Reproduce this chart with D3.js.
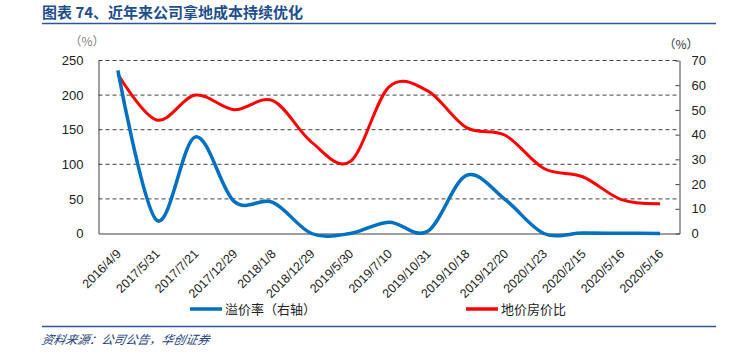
<!DOCTYPE html>
<html><head><meta charset="utf-8">
<script src="https://cdn.jsdelivr.net/npm/d3@7"></script>
<style>
body{margin:0;background:#fff;}
svg{display:block;}
</style></head>
<body>
<svg id="c" width="730" height="361"></svg>
<script>
const categories = ["2016/4/9","2017/5/31","2017/7/21","2017/12/29","2018/1/8","2018/12/29","2019/5/30","2019/7/10","2019/10/31","2019/10/18","2019/12/20","2020/1/23","2020/2/15","2020/5/16","2020/5/16"];
// 溢价率（右轴）, right axis units (%)
const premiumRate = [66, 5.4, 39.1, 13, 12.6, 0, 0, 4.6, 0.9, 23.5, 13.7, 0, 0.2, 0.1, 0];
// 地价房价比, left axis units (%)
const landHouseRatio = [230, 164, 200, 179, 192, 132, 104, 212, 206, 153, 142, 94, 82, 49, 43];
const leftTicks = [0, 50, 100, 150, 200, 250];
const rightTicks = [0, 10, 20, 30, 40, 50, 60, 70];
const seriesNames = ["溢价率（右轴）", "地价房价比"];
const title = "图表 74、近年来公司拿地成本持续优化";
const source = "资料来源：公司公告，华创证券";

const svg = d3.select("#c");
const L = 98.5, R = 679.5, T = 60.5, B = 233.5;
const x = d3.scaleBand().domain(d3.range(categories.length)).range([L, R]);
const yL = d3.scaleLinear().domain([0, 250]).range([B, T]);
const yR = d3.scaleLinear().domain([0, 70]).range([B, T]);
const cx = i => x(i) + x.bandwidth() / 2;

// title
svg.append("text").attr("x", 42).attr("y", 18).text(title)
  .attr("font-family", "Noto Sans CJK SC").attr("font-weight", "bold")
  .attr("font-size", 15).attr("fill", "#1F4E8C");
svg.append("line").attr("x1", 42).attr("x2", 716).attr("y1", 23.5).attr("y2", 23.5)
  .attr("stroke", "#2F5597").attr("stroke-width", 1.5);
svg.append("line").attr("x1", 42).attr("x2", 716).attr("y1", 326.5).attr("y2", 326.5)
  .attr("stroke", "#2F5597").attr("stroke-width", 1.5);
svg.append("text").attr("x", 42).attr("y", 344).text(source)
  .attr("font-family", "Noto Sans CJK SC").attr("font-style", "italic")
  .attr("font-size", 12).attr("fill", "#1F3F77").attr("transform", "skewX(-12) translate(72,0)");

// unit labels
svg.append("text").attr("x", 87).attr("y", 46).attr("text-anchor", "middle").text("（%）")
  .attr("font-family", "Noto Sans CJK SC").attr("font-size", 12).attr("fill", "#7f7f7f");
svg.append("text").attr("x", 681).attr("y", 49).attr("text-anchor", "middle").text("（%）")
  .attr("font-family", "Noto Sans CJK SC").attr("font-size", 12).attr("fill", "#333");

// gridlines
svg.append("g").selectAll("line").data(leftTicks.filter(d => d > 0)).join("line")
  .attr("x1", L).attr("x2", R).attr("y1", d => yL(d)).attr("y2", d => yL(d))
  .attr("stroke", "#404040").attr("stroke-width", 1).attr("stroke-dasharray", "4,3");

// left axis
const gL = svg.append("g").attr("transform", `translate(${L},0)`)
  .call(d3.axisLeft(yL).tickValues(leftTicks).tickSize(0).tickPadding(15));
gL.select(".domain").attr("stroke", "#404040");
gL.selectAll("text").attr("font-family", "Arial, Liberation Sans").attr("font-size", 13).attr("fill", "#222");

// right axis
const gR = svg.append("g").attr("transform", `translate(${R},0)`)
  .call(d3.axisRight(yR).tickValues(rightTicks).tickSizeInner(-4).tickSizeOuter(0).tickPadding(12));
gR.select(".domain").attr("stroke", "#404040");
gR.selectAll(".tick line").attr("stroke", "#404040");
gR.selectAll("text").attr("font-family", "Arial, Liberation Sans").attr("font-size", 13).attr("fill", "#222");

// bottom axis
const gB = svg.append("g").attr("transform", `translate(0,${B})`)
  .call(d3.axisBottom(x).tickSize(0).tickFormat(i => categories[i]));
gB.select(".domain").attr("stroke", "#404040");
gB.selectAll("text").attr("font-family", "Arial, Liberation Sans").attr("font-size", 12.5).attr("fill", "#222")
  .attr("text-anchor", "end").attr("dy", null).attr("y", 0)
  .attr("transform", "translate(4,21) rotate(-45)");

// lines
const curve = d3.curveCardinal.tension(0);
svg.append("path").datum(landHouseRatio)
  .attr("d", d3.line().x((d, i) => cx(i)).y(d => yL(d)).curve(curve))
  .attr("fill", "none").attr("stroke", "#FF0000").attr("stroke-width", 3);
svg.append("path").datum(premiumRate)
  .attr("d", d3.line().x((d, i) => cx(i)).y(d => yR(d)).curve(curve))
  .attr("fill", "none").attr("stroke", "#0070C0").attr("stroke-width", 3.5);

// legend
const leg = [{name: seriesNames[0], color: "#0070C0", x: 190}, {name: seriesNames[1], color: "#FF0000", x: 466}];
const lg = svg.append("g").selectAll("g").data(leg).join("g").attr("transform", d => `translate(${d.x},309)`);
lg.append("line").attr("x1", 0).attr("x2", 32).attr("stroke", d => d.color).attr("stroke-width", 3.5);
lg.append("text").attr("x", 35).attr("y", 5).text(d => d.name)
  .attr("font-family", "Noto Sans CJK SC").attr("font-size", 13).attr("fill", "#222");
</script>
</body></html>
